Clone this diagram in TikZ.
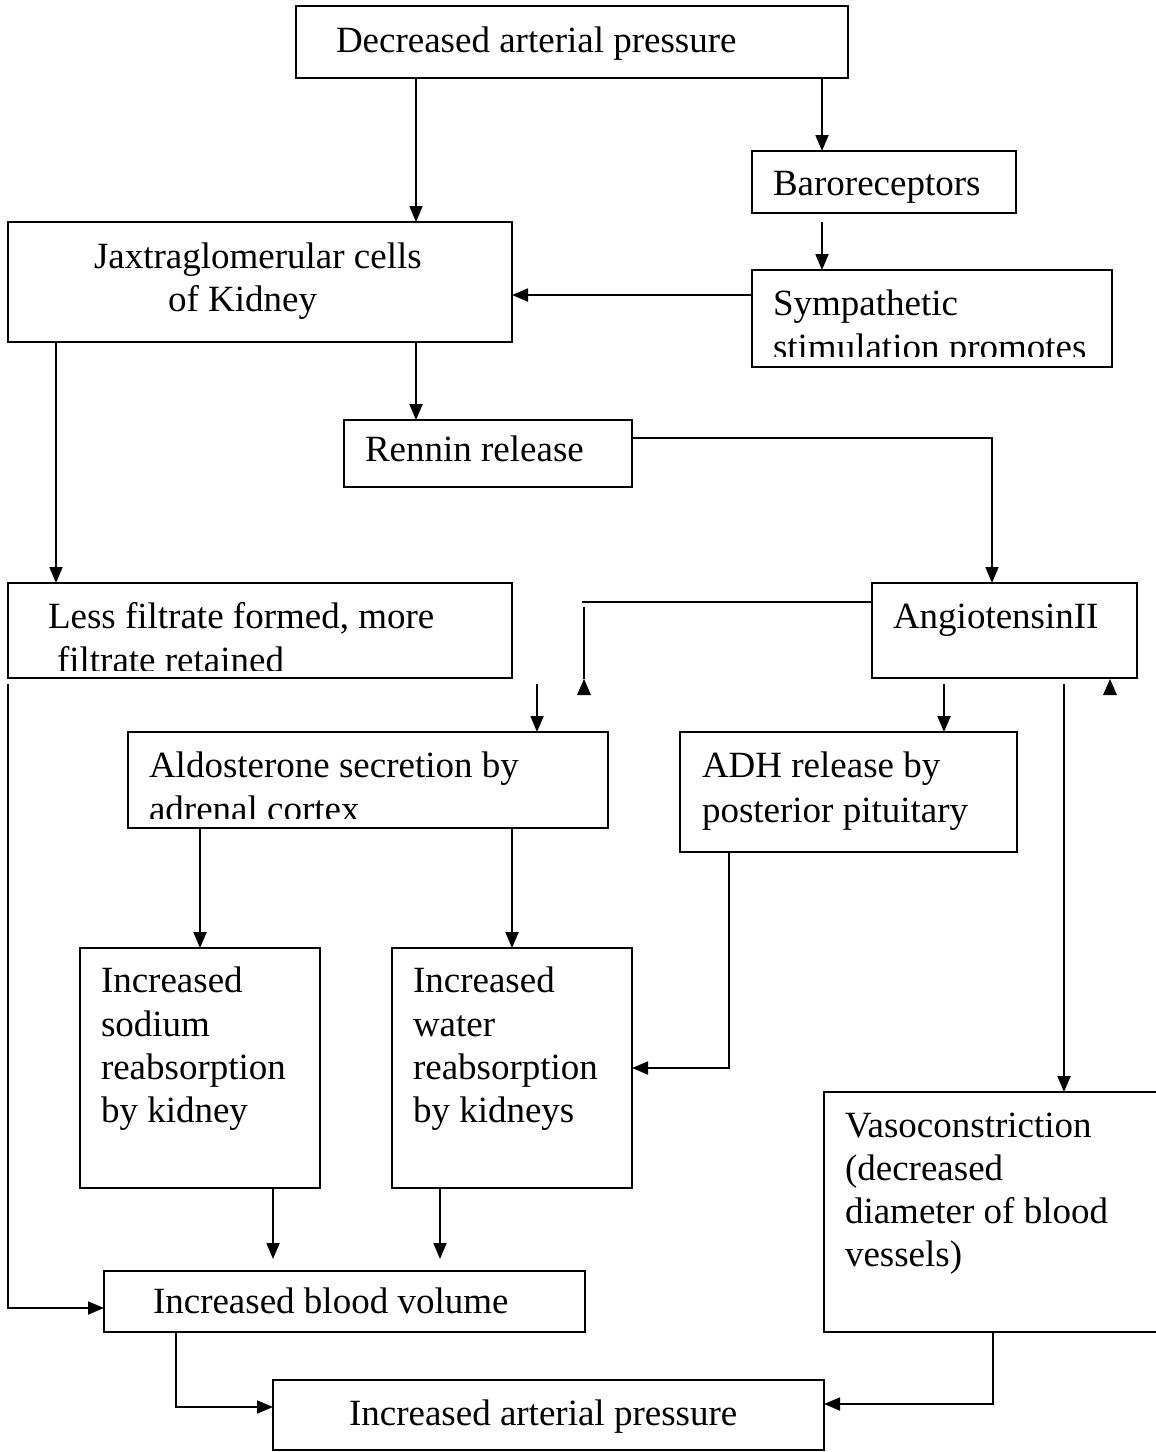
\documentclass[tikz,border=0pt]{standalone}
\usepackage{fontspec}
\setmainfont{Liberation Serif}
\usetikzlibrary{arrows.meta}
\newcommand\flowbox[5]{\node[box, minimum width={#4pt-#2pt}, minimum height={#5pt-#3pt}] (#1) at ({(#2+#4)/2},{(#3+#5)/2}) {};}
\begin{document}
\begin{tikzpicture}[x=1pt,y=-1pt,
 box/.style={draw, rectangle, line width=2.2pt, inner sep=0pt, outer sep=0pt},
 txt/.style={anchor=base west, inner sep=0pt, outer sep=0pt, font=\fontsize{37}{43}\selectfont},
 conn/.style={line width=1.8pt},
 arr/.style={conn, -{Triangle[length=16pt,width=13pt]}},
 uptip/.style={fill=black}]
\fill[white] (0,0) rectangle (1156,1452);
\useasboundingbox (0,0) rectangle (1156,1452);

% boxes
\flowbox{dap}{296}{6}{848}{78}
\flowbox{baro}{752}{151}{1016}{213}
\flowbox{jg}{8}{222}{512}{342}
\flowbox{sym}{752}{270}{1112}{367}
\flowbox{ren}{344}{420}{632}{487}
\flowbox{less}{8}{583}{512}{678}
\flowbox{ang}{872}{583}{1137}{678}
\flowbox{ald}{128}{732}{608}{828}
\flowbox{adh}{680}{732}{1017}{852}
\flowbox{sod}{80}{948}{320}{1188}
\flowbox{wat}{392}{948}{632}{1188}
\flowbox{vaso}{824}{1092}{1180}{1332}
\flowbox{ibv}{104}{1271}{585}{1332}
\flowbox{iap}{273}{1380}{824}{1450}

% texts
\node[txt] (tdap) at (336,52) {Decreased arterial pressure};
\node[txt] (tbaro) at (773,195) {Baroreceptors};
\node[txt] (tjg1) at (94,268) {Jaxtraglomerular cells};
\node[txt] (tjg2) at (168,311) {of Kidney};
\node[txt] (tsym1) at (773,315) {Sympathetic};
\begin{scope}
\clip (752,270) rectangle (1112,356);
\node[txt] (tsym2) at (773,359) {stimulation promotes};
\end{scope}
\node[txt] (tren) at (365,461) {Rennin release};
\node[txt] (tless1) at (48,628) {Less filtrate formed, more};
\begin{scope}
\clip (8,583) rectangle (512,670);
\node[txt] (tless2) at (57,672) {filtrate retained};
\end{scope}
\node[txt] (tang) at (893,628) {AngiotensinII};
\node[txt] (tald1) at (149,777) {Aldosterone secretion by};
\begin{scope}
\clip (128,732) rectangle (608,818);
\node[txt] (tald2) at (149,821) {adrenal cortex};
\end{scope}
\node[txt] (tadh1) at (702,777) {ADH release by};
\node[txt] (tadh2) at (702,822) {posterior pituitary};
\node[txt] (tsod1) at (101,992) {Increased};
\node[txt] (tsod2) at (101,1036) {sodium};
\node[txt] (tsod3) at (101,1079) {reabsorption};
\node[txt] (tsod4) at (101,1122) {by kidney};
\node[txt] (twat1) at (413,992) {Increased};
\node[txt] (twat2) at (413,1036) {water};
\node[txt] (twat3) at (413,1079) {reabsorption};
\node[txt] (twat4) at (413,1122) {by kidneys};
\node[txt] (tvas1) at (845,1137) {Vasoconstriction};
\node[txt] (tvas2) at (845,1180) {(decreased};
\node[txt] (tvas3) at (845,1223) {diameter of blood};
\node[txt] (tvas4) at (845,1266) {vessels)};
\node[txt] (tibv) at (153,1313) {Increased blood volume};
\node[txt] (tiap) at (349,1425) {Increased arterial pressure};

% free ends
\coordinate (b3) at (822,222);
\coordinate (l1) at (8,684);
\coordinate (h1) at (582,602);
\coordinate (v1) at (584,607);
\coordinate (v2) at (584,679);
\coordinate (a1) at (537,684);
\coordinate (a2) at (944,684);
\coordinate (a3) at (1064,684);
\coordinate (u2) at (1110,679);
\coordinate (s1) at (273,1259);
\coordinate (w1) at (440,1259);

% connectors
\draw[arr] (416,0 |- dap.south) -- (416,0 |- jg.north);
\draw[arr] (822,0 |- dap.south) -- (822,0 |- baro.north);
\draw[arr] (b3) -- (822,0 |- sym.north);
\draw[arr] (sym.west |- 0,295) -- (jg.east |- 0,295);
\draw[arr] (416,0 |- jg.south) -- (416,0 |- ren.north);
\draw[arr] (ren.east |- 0,438) -| (992,0 |- ang.north);
\draw[arr] (56,0 |- jg.south) -- (56,0 |- less.north);
\draw[arr] (l1) |- (ibv.west |- 0,1308);
\draw[conn] (ang.west |- h1) -- (h1);
\draw[conn] (v1) -- (v2);
\fill[uptip] (v2) -- ++(-7,16) -- ++(14,0) -- cycle;
\fill[uptip] (u2) -- ++(-7,16) -- ++(14,0) -- cycle;
\draw[arr] (a1) -- (537,0 |- ald.north);
\draw[arr] (a2) -- (944,0 |- adh.north);
\draw[arr] (a3) -- (1064,0 |- vaso.north);
\draw[arr] (200,0 |- ald.south) -- (200,0 |- sod.north);
\draw[arr] (512,0 |- ald.south) -- (512,0 |- wat.north);
\draw[arr] (729,0 |- adh.south) |- (wat.east |- 0,1068);
\draw[arr] (273,0 |- sod.south) -- (s1);
\draw[arr] (440,0 |- wat.south) -- (w1);
\draw[arr] (176,0 |- ibv.south) |- (iap.west |- 0,1407);
\draw[arr] (993,0 |- vaso.south) |- (iap.east |- 0,1404);
\end{tikzpicture}
\end{document}
